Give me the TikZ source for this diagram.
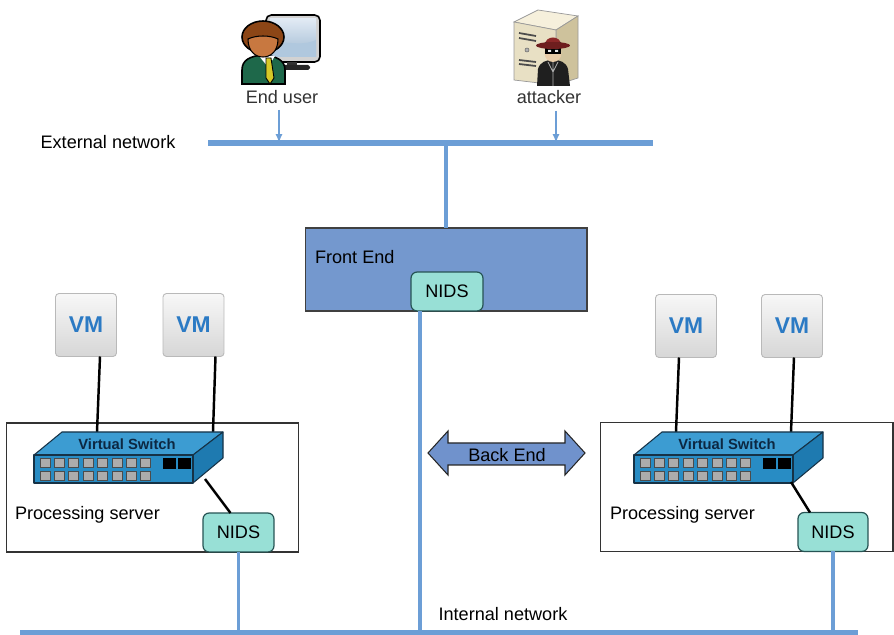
\documentclass[tikz,border=0pt]{standalone}
\usepackage{fontspec}
\setmainfont{Liberation Sans}
\usetikzlibrary{arrows.meta,calc}

\definecolor{netblue}{RGB}{108,158,214}
\definecolor{frontfill}{RGB}{116,152,206}
\definecolor{backfill}{RGB}{112,146,204}
\definecolor{nidsfill}{RGB}{152,224,214}
\definecolor{nidsedge}{RGB}{38,84,84}
\definecolor{vmblue}{RGB}{43,122,196}
\definecolor{swfront}{RGB}{40,140,196}
\definecolor{swtop}{RGB}{60,156,210}
\definecolor{swside}{RGB}{30,122,176}
\definecolor{swedge}{RGB}{22,50,70}
\definecolor{swtext}{RGB}{12,40,66}
\definecolor{jacket}{RGB}{30,104,74}
\definecolor{hair}{RGB}{140,70,22}
\definecolor{skin}{RGB}{200,120,64}
\definecolor{tie}{RGB}{214,200,40}
\definecolor{skintwo}{RGB}{232,204,168}
\definecolor{hatred}{RGB}{140,40,40}
\definecolor{hatdark}{RGB}{110,30,30}
\definecolor{towerfront}{RGB}{232,224,196}
\definecolor{towertop}{RGB}{246,240,220}
\definecolor{towerside}{RGB}{206,194,156}
\definecolor{screentop}{RGB}{225,234,244}
\definecolor{screenbot}{RGB}{160,186,210}
\definecolor{screenhill}{RGB}{176,200,222}

\newcommand{\lblfont}{\fontsize{10.3}{12}\selectfont}

\tikzset{
  net/.style={draw=netblue, line width=2.9pt},
  link/.style={draw=netblue, line width=2.1pt},
  arr/.style={draw=netblue, line width=1pt, -{Latex[length=5pt,width=4pt]}},
  wire/.style={draw=black, line width=1.4pt},
  lbl/.style={font=\lblfont, text=black},
  iconlbl/.style={font=\lblfont, text=black!80},
  frontbox/.style={draw=black!75, fill=frontfill, line width=0.6pt,
    minimum width=5.64cm, minimum height=1.66cm},
  serverbox/.style={draw=black!80, fill=white, line width=0.6pt,
    minimum width=5.86cm, minimum height=2.58cm},
  nids/.style={draw=nidsedge, fill=nidsfill, line width=0.7pt, rounded corners=3.5pt,
    minimum width=1.42cm, minimum height=0.78cm, font=\lblfont},
  vmbox/.style={draw=gray!55, top color=gray!6, bottom color=gray!32, rounded corners=2pt,
    line width=0.5pt, minimum width=1.22cm, minimum height=1.26cm,
    font=\fontsize{13}{15}\selectfont\bfseries, text=vmblue},
  backarrow/.style={draw=black!85, fill=backfill, line width=0.6pt, line join=miter},
  swlbl/.style={font=\fontsize{8.4}{10}\selectfont\bfseries, text=swtext},
  port/.style={fill=gray!65, draw=black!70, line width=0.4pt},
  portblk/.style={fill=black, draw=black, line width=0.4pt},
  swface/.style={draw=swedge, line width=0.6pt, line join=round},
}

% virtual switch drawn from its front top left corner
\newcommand{\vswitch}[2]{%
  \begin{scope}[shift={(#2,455)}]
    \filldraw[swface, fill=swtop] (0,0) -- (159,0) -- (189,-23) -- (28,-23) -- cycle;
    \filldraw[swface, fill=swside] (159,0) -- (189,-23) -- (189,3) -- (159,28) -- cycle;
    \filldraw[swface, fill=swfront] (0,0) rectangle (159,28);
    \foreach \i in {0,...,7} {
      \filldraw[port] ({6+14.4*\i},3) rectangle +(10,9);
      \filldraw[port] ({6+14.4*\i},16) rectangle +(10,9);
    }
    \filldraw[portblk] (129,3) rectangle +(12,10);
    \filldraw[portblk] (144,3) rectangle +(12,10);
    \node[swlbl] (#1lbl) at (93,-11) {Virtual Switch};
  \end{scope}%
}

\begin{document}
\begin{tikzpicture}[x=0.02cm, y=-0.02cm, every node/.style={inner sep=0pt, outer sep=0pt}]
  \path[fill=white, use as bounding box] (0,0) rectangle (894,635);

  % ---------- end user icon ----------
  \filldraw[draw=black, line width=0.9pt, fill=gray!35, rounded corners=3pt] (266,15) rectangle (320,62);
  \shade[top color=screentop, bottom color=screenbot] (270,19) rectangle (316,57);
  \fill[screenhill] (270,46) .. controls (284,38) and (298,48) .. (316,40) -- (316,57) -- (270,57) -- cycle;
  \fill[black!80] (287,62) rectangle (297,67);
  \fill[black!85, rounded corners=1pt] (280,65) rectangle (310,70);
  \filldraw[fill=jacket, draw=black, line width=0.9pt] (242,84) -- (242,70)
    .. controls (242,60) and (250,56) .. (263,55) .. controls (276,56) and (285,60) .. (285,70) -- (285,84) -- cycle;
  \fill[white] (259,56) -- (268,67) -- (275,56) -- cycle;
  \filldraw[fill=tie, draw=black, line width=0.5pt] (266,58) -- (271,58) -- (274,78) -- (270,84) -- (266,78) -- cycle;
  \filldraw[fill=hair, draw=black, line width=0.9pt] (263,37) ellipse [x radius=0.42cm, y radius=0.32cm];
  \filldraw[fill=skin, draw=black, line width=0.6pt] (248,39) .. controls (248,52) and (256,57) .. (263,57)
    .. controls (270,57) and (278,52) .. (278,39) .. controls (270,35) and (256,35) .. (248,39) -- cycle;

  % ---------- attacker icon ----------
  \filldraw[fill=towertop, draw=black!40, line width=0.4pt] (514,22) -- (538,10) -- (578,16) -- (556,30) -- cycle;
  \filldraw[fill=towerside, draw=black!40, line width=0.4pt] (556,30) -- (578,16) -- (578,78) -- (556,85) -- cycle;
  \filldraw[fill=towerfront, draw=black!40, line width=0.4pt] (514,22) -- (556,30) -- (556,85) -- (514,80) -- cycle;
  \draw[black!70, line width=1pt] (519,33) -- (536,36) (519,38) -- (536,41) (519,60) -- (536,62) (519,64) -- (536,66);
  \filldraw[fill=gray!60, draw=black!60, line width=0.3pt] (527,50) circle [radius=0.04cm];
  \fill[black!88] (537,86) -- (538,69) .. controls (540,62) and (546,60) .. (553,60)
    .. controls (560,60) and (566,62) .. (568,69) -- (570,86) -- cycle;
  \draw[gray!60, line width=0.4pt] (553,62) -- (553,86) (548,62) -- (553,72) -- (558,62);
  \fill[skintwo] (553,53) ellipse [x radius=0.17cm, y radius=0.18cm];
  \fill[black] (545,48) rectangle (561,54);
  \fill[white!85!gray] (548,50) rectangle (551,52) (555,50) rectangle (558,52);
  \fill[hatred] (545,45) .. controls (545,35) and (561,35) .. (561,45) -- cycle;
  \fill[black!80] (545,42) rectangle (561,45);
  \fill[hatdark] (553,45.5) ellipse [x radius=0.34cm, y radius=0.07cm];

  % ---------- labels of the external side ----------
  \node[iconlbl] (userlbl) at (282,97) {End user};
  \node[iconlbl] (attlbl) at (549,97) {attacker};
  \node[lbl] (extlbl) at (108,142) {External network};

  % ---------- external network ----------
  \coordinate (extL) at (208,143);
  \coordinate (extR) at (653,143);
  \draw[net] (extL) -- (extR);
  \coordinate (userdrop) at (279,110);
  \coordinate (attdrop) at (556,111);
  \draw[arr] (userdrop) -- (userdrop |- extL);
  \draw[arr] (attdrop) -- (attdrop |- extL);

  % ---------- front end ----------
  \node[frontbox] (front) at (446,269.5) {};
  \node[lbl, anchor=west] (frontlbl) at (315,257) {Front End};
  \node[nids, minimum width=1.44cm] (fnids) at (447,291.5) {NIDS};
  \draw[link] (front.north) -- (front.north |- extL);

  % ---------- internal network ----------
  \coordinate (intL) at (20,633);
  \coordinate (intR) at (858,633);
  \coordinate (fdrop) at (420,311);
  \draw[link] (fdrop) -- (fdrop |- intL);
  \node[lbl] (intlbl) at (503,614) {Internal network};

  % ---------- processing servers ----------
  \node[serverbox] (srvL) at (152.5,487.5) {};
  \node[serverbox] (srvR) at (746.5,487) {};
  \node[lbl, anchor=west] (srvLlbl) at (15,515) {Processing server};
  \node[lbl, anchor=west] (srvRlbl) at (610,515) {Processing server};

  \node[vmbox] (vmL1) at (86,325) {VM};
  \node[vmbox] (vmL2) at (193.5,325) {VM};
  \node[vmbox] (vmR1) at (686,326) {VM};
  \node[vmbox] (vmR2) at (792,326) {VM};

  \coordinate (swLa) at (97,432);
  \coordinate (swLb) at (213,432);
  \coordinate (swLc) at (205,479);
  \coordinate (swRa) at (676,432);
  \coordinate (swRb) at (791,432);
  \coordinate (swRc) at (791,482);
  \draw[wire] ($(vmL1.south)+(14,0)$) -- (swLa);
  \draw[wire] ($(vmL2.south)+(22,0)$) -- (swLb);
  \draw[wire] ($(vmR1.south)+(-7,0)$) -- (swRa);
  \draw[wire] ($(vmR2.south)+(2,0)$) -- (swRb);

  \vswitch{swL}{34}
  \vswitch{swR}{634}

  \node[nids] (lnids) at (238.5,532.5) {NIDS};
  \node[nids, minimum width=1.40cm] (rnids) at (833,532) {NIDS};
  \draw[wire] (swLc) -- ($(lnids.north)+(-8,0)$);
  \draw[wire] (swRc) -- ($(rnids.north)+(-23,0)$);
  \draw[link] (lnids.south) -- (lnids.south |- intL);
  \draw[link] (rnids.south) -- (rnids.south |- intL);

  \draw[net, line width=3.3pt] (intL) -- (intR);

  % ---------- back end ----------
  \filldraw[backarrow] (428,453) -- (448,431) -- (448,443) -- (565,443) -- (565,431) -- (585,453)
    -- (565,475) -- (565,465) -- (448,465) -- (448,475) -- cycle;
  \node[lbl] (backlbl) at (507,455) {Back End};
\end{tikzpicture}
\end{document}
